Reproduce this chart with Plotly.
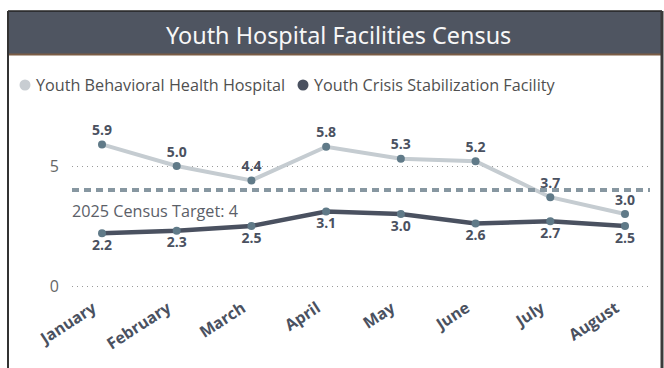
import plotly.graph_objects as go

# Monthly census data
months = ["January", "February", "March", "April", "May", "June", "July", "August"]
behavioral_health = [5.9, 5.0, 4.4, 5.8, 5.3, 5.2, 3.7, 3.0]
crisis_stabilization = [2.2, 2.3, 2.5, 3.1, 3.0, 2.6, 2.7, 2.5]
series_names = ["Youth Behavioral Health Hospital", "Youth Crisis Stabilization Facility"]
census_target = 4
target_label = "2025 Census Target: 4"
title_text = "Youth Hospital Facilities Census"

W, H = 664, 368


def fx(px):
    return px / W


def fy(py):
    return 1 - py / H


LIGHT = "#c5ccd1"
DARK = "#4a5160"
MARKER = "#607a88"
LABEL = "#4a5160"
FONT = "Open Sans"

x_idx = list(range(len(months)))

fig = go.Figure()

fig.add_trace(go.Scatter(
    x=x_idx, y=behavioral_health, name=series_names[0],
    mode="lines+markers+text",
    line=dict(color=LIGHT, width=4),
    marker=dict(color=MARKER, size=8),
    text=[f"{v:.1f}" for v in behavioral_health],
    textposition="top center",
    textfont=dict(family=FONT, size=14, color=LABEL, weight="bold"),
    cliponaxis=False, showlegend=False,
))

fig.add_trace(go.Scatter(
    x=x_idx, y=crisis_stabilization, name=series_names[1],
    mode="lines+markers+text",
    line=dict(color=DARK, width=4.5),
    marker=dict(color=MARKER, size=8),
    text=[f"{v:.1f}" for v in crisis_stabilization],
    textposition="bottom center",
    textfont=dict(family=FONT, size=14, color=LABEL, weight="bold"),
    cliponaxis=False, showlegend=False,
))

shapes = [
    # header band
    dict(type="rect", xref="paper", yref="paper",
         x0=fx(8), x1=fx(662), y0=fy(54), y1=fy(11),
         fillcolor="#4f5561", line=dict(width=0), layer="below"),
    dict(type="line", xref="paper", yref="paper",
         x0=fx(8), x1=fx(662), y0=fy(54.5), y1=fy(54.5),
         line=dict(color="#7a5c45", width=2)),
    # card border
    dict(type="line", xref="paper", yref="paper",
         x0=fx(8), x1=fx(662), y0=fy(11), y1=fy(11),
         line=dict(color="#222222", width=1.5)),
    dict(type="line", xref="paper", yref="paper",
         x0=fx(8), x1=fx(8), y0=fy(11), y1=0,
         line=dict(color="#333333", width=2)),
    dict(type="line", xref="paper", yref="paper",
         x0=fx(662), x1=fx(662), y0=fy(11), y1=0,
         line=dict(color="#3a3a3a", width=3)),
    # target line
    dict(type="line", xref="x domain", yref="y",
         x0=0, x1=1, y0=census_target, y1=census_target,
         line=dict(color="#8797a1", width=4, dash="7px,5px")),
    # legend swatches
    dict(type="circle", xref="paper", yref="paper",
         x0=fx(19.5), x1=fx(30.5), y0=fy(90.5), y1=fy(79.5),
         fillcolor="#c8cdd2", line=dict(width=0)),
    dict(type="circle", xref="paper", yref="paper",
         x0=fx(297.5), x1=fx(308.5), y0=fy(90.5), y1=fy(79.5),
         fillcolor=DARK, line=dict(width=0)),
]

annotations = [
    dict(text=title_text, xref="paper", yref="paper", x=fx(338), y=fy(35),
         showarrow=False, xanchor="center", yanchor="middle",
         font=dict(family="Noto Sans", size=23.4, color="#f7f7f7")),
    dict(text=series_names[0], xref="paper", yref="paper", x=fx(34), y=fy(85),
         showarrow=False, xanchor="left", yanchor="middle",
         font=dict(family=FONT, size=16.2, color="#505050")),
    dict(text=series_names[1], xref="paper", yref="paper", x=fx(312), y=fy(85),
         showarrow=False, xanchor="left", yanchor="middle",
         font=dict(family=FONT, size=16.2, color="#505050")),
    dict(text=target_label, xref="x domain", yref="y", x=-0.003, y=census_target,
         yshift=-21, showarrow=False, xanchor="left", yanchor="middle",
         font=dict(family=FONT, size=16.2, color="#5b6068")),
]

fig.update_layout(
    width=W, height=H,
    margin=dict(l=0, r=0, t=0, b=0, autoexpand=False),
    paper_bgcolor="white", plot_bgcolor="white",
    shapes=shapes, annotations=annotations,
    showlegend=False,
    xaxis=dict(
        domain=[fx(72), fx(650)],
        range=[-0.4015, 7.3346],
        tickmode="array", tickvals=x_idx, ticktext=months,
        tickangle=-33, showgrid=False, zeroline=False, showline=False,
        ticks="", ticklabelstandoff=5, ticklabelshift=-9, automargin=False,
        tickfont=dict(family=FONT, size=16, color=LABEL, weight="bold"),
    ),
    yaxis=dict(
        domain=[fy(290), fy(130)],
        range=[-4 / 24, 6.5],
        tickmode="array", tickvals=[0, 5], ticktext=["0", "5"],
        showgrid=True, gridcolor="#9a9a9a", gridwidth=1, griddash="1px,4px",
        zeroline=False, showline=False, ticks="", ticklabelstandoff=12,
        automargin=False,
        tickfont=dict(family=FONT, size=16, color="#666666"),
    ),
)

fig.write_html("out.html")
